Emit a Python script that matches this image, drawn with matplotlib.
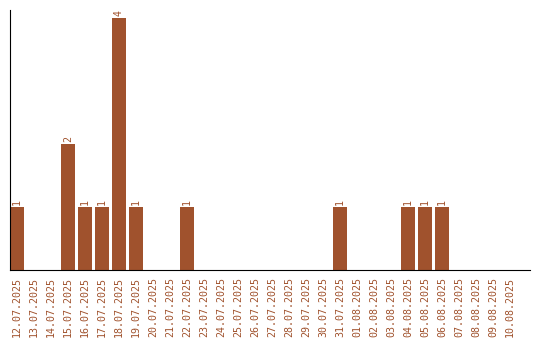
import matplotlib
matplotlib.use('Agg')
import matplotlib.pyplot as plt
import numpy as np

dates = ['12.07.2025', '13.07.2025', '14.07.2025', '15.07.2025', '16.07.2025',
         '17.07.2025', '18.07.2025', '19.07.2025', '20.07.2025', '21.07.2025',
         '22.07.2025', '23.07.2025', '24.07.2025', '25.07.2025', '26.07.2025',
         '27.07.2025', '28.07.2025', '29.07.2025', '30.07.2025', '31.07.2025',
         '01.08.2025', '02.08.2025', '03.08.2025', '04.08.2025', '05.08.2025',
         '06.08.2025', '07.08.2025', '08.08.2025', '09.08.2025', '10.08.2025']
counts = [1, 0, 0, 2, 1, 1, 4, 1, 0, 0,
          1, 0, 0, 0, 0, 0, 0, 0, 0, 1,
          0, 0, 0, 1, 1, 1, 0, 0, 0, 0]

col = '#A0522D'
font = 'DejaVu Sans Mono'

fig = plt.figure(figsize=(5.4, 3.4), dpi=100)
ax = fig.add_axes([10/540, 70/340, 520/540, 260/340])

x = np.arange(len(dates))
ax.bar(x, counts, width=0.82, color=col)
for xi, c in zip(x, counts):
    if c > 0:
        ax.text(xi, c + 0.03, str(c), rotation=90, ha='center', va='bottom',
                color=col, fontsize=7.2, family=font)

ax.set_xlim(-0.41, 30.18)
ax.set_ylim(0, 4.13)
ax.set_xticks(x)
ax.set_xticklabels(dates, rotation=90, color=col, fontsize=7.2, family=font)
ax.set_yticks([])
ax.tick_params(axis='x', length=0, pad=5)
for s in ['top', 'right']:
    ax.spines[s].set_visible(False)
ax.spines['left'].set_color('black')
ax.spines['bottom'].set_color('black')

fig.savefig('out.png', dpi=100)
